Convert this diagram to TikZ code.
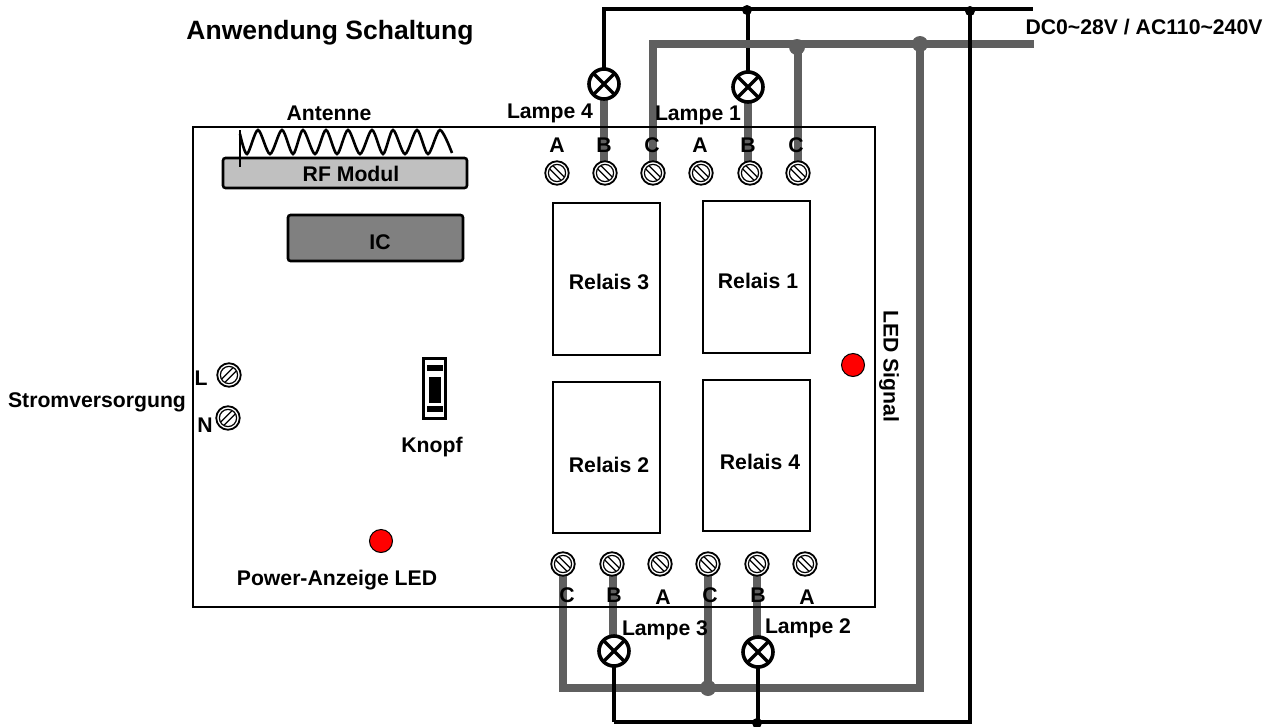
\documentclass[tikz,border=0pt]{standalone}
\usepackage{fontspec}
\setmainfont{Liberation Sans}
\definecolor{wiregray}{HTML}{5F5F5F}
\definecolor{ledred}{HTML}{FF0000}
\definecolor{rfgray}{HTML}{C0C0C0}
\definecolor{icgray}{HTML}{808080}
\tikzset{
  x=1pt,y=-1pt,
  lbl/.style={font=\bfseries\fontsize{21.2}{24}\selectfont,inner sep=0pt,text=black},
  graywire/.style={draw=wiregray,line width=8pt},
  blackwire/.style={draw=black,line width=4pt},
  graydot/.style={circle,fill=wiregray,minimum size=16pt,inner sep=0pt},
  blackdot/.style={circle,fill=black,minimum size=10pt,inner sep=0pt},
  relay/.style={draw=black,line width=2pt,fill=white,inner sep=0pt},
  chip/.style={draw=black,line width=2.6pt,rounded corners=2.5pt,inner sep=0pt},
  led/.style={circle,draw=black,line width=1pt,fill=ledred,minimum size=23pt,inner sep=0pt},
  lamp/.style={circle,draw=black,line width=3.6pt,fill=white,minimum size=30pt,inner sep=0pt,
    path picture={\draw[line width=3.4pt] (path picture bounding box.north west)--(path picture bounding box.south east)
      (path picture bounding box.north east)--(path picture bounding box.south west);}},
  screw/.style={circle,draw=black,line width=1.8pt,fill=white,minimum size=23.5pt,inner sep=0pt,
    path picture={\draw[line width=1.2pt] (path picture bounding box.center) circle[radius=8.6pt];
      \draw[line width=1.3pt]
        ([shift={(#1*-3.9,-7.1)}]path picture bounding box.center)--([shift={(#1*7.1,3.9)}]path picture bounding box.center)
        ([shift={(#1*-7.1,-3.9)}]path picture bounding box.center)--([shift={(#1*3.9,7.1)}]path picture bounding box.center);}},
}
\begin{document}
\begin{tikzpicture}
\useasboundingbox (0,0) rectangle (1272,726);
% relays
\node[relay,minimum width=107pt,minimum height=152pt] (r3) at (606.5,279) {};
\node[relay,minimum width=107pt,minimum height=152pt] (r1) at (756.5,277) {};
\node[relay,minimum width=107pt,minimum height=151pt] (r2) at (606.5,457.5) {};
\node[relay,minimum width=107pt,minimum height=151pt] (r4) at (756.5,455.5) {};
% chips
\node[chip,fill=rfgray,minimum width=244pt,minimum height=30pt] (rf) at (345,173) {};
\node[chip,fill=icgray,minimum width=175pt,minimum height=46pt] (ic) at (375.5,238) {};
% antenna
\coordinate (antTop) at (240,130);
\coordinate (antFoot) at (240,167);
\draw[line width=2.8pt] (antTop) -- (antFoot);
\draw[line width=2.6pt] plot[smooth,tension=0.5] coordinates {(240,134)
  (247,154) (258,130) (270,154) (282,130) (293,154) (303,130)
  (315,154) (326,130) (337,154) (348,130) (360,154) (372,130)
  (383,154) (393,130) (405,154) (417,130) (428,154) (440,130)
  (452,153)};
% bus coordinates
\coordinate (bt) at (1033,9);
\coordinate (gt) at (1034,44);
\coordinate (gtl) at (649,44);
\coordinate (gbr) at (924,688);
\coordinate (gbl) at (559,688);
\coordinate (bbr) at (972,721.5);
\path
  (557,173) coordinate (ta1c) (605,173) coordinate (tb1c) (653,173) coordinate (tc1c)
  (701,173) coordinate (ta2c) (750,173) coordinate (tb2c) (798,173) coordinate (tc2c)
  (563,564) coordinate (bc1c) (612,564) coordinate (bb1c) (660,564) coordinate (ba1c)
  (708,564) coordinate (bc2c) (757,564) coordinate (bb2c) (805,564) coordinate (ba2c)
  (604,84) coordinate (l4c) (748,87) coordinate (l1c) (614,651) coordinate (l3c) (758,652) coordinate (l2c);
\coordinate (bbl) at (l3c|-bbr);
% black wire under the gray bus
\draw[blackwire] (l1c) -- (l1c|-bt);
% gray wires
\draw[graywire] (gtl) -- (gt);
\draw[graywire] (653,40) -- (tc1c);
\draw[graywire] (tc2c|-gt) -- (tc2c);
\draw[graywire] (l4c) -- (l4c|-tb1c);
\draw[graywire] (l1c) -- (l1c|-tb2c);
\draw[graywire] (920,40) -- (920,692);
\draw[graywire] (gbl) -- (gbr);
\draw[graywire] (bc1c) -- (563,692);
\draw[graywire] (bc2c) -- (708,688);
\draw[graywire] (613,651) -- (613,564);
\draw[graywire] (bb2c) -- (bb2c|-l2c);
\node[graydot] (d1) at (797,47) {};
\node[graydot] (d2) at (920,44) {};
\node[graydot] (d3) at (708,688) {};
% board
\node[draw=black,line width=2pt,minimum width=682pt,minimum height=480pt,inner sep=0pt] (board) at (534,367) {};
% black wires
\draw[blackwire] (l4c) -- (l4c|-bt) -- (bt);
\draw[blackwire] (970,9) -- (970,723);
\draw[blackwire] (bbl) -- (bbr);
\draw[blackwire] (l3c) -- (bbl);
\draw[blackwire] (l2c) -- (l2c|-bbl);
\node[blackdot] (d4) at (747,10) {};
\node[blackdot] (d5) at (970,11) {};
\node[blackdot] (d6) at (757,723) {};
% terminals
\foreach \n in {ta1,tb1,tc1,ta2,tb2,tc2,bc1,bb1,ba1,bc2,bb2,ba2}
  \node[screw=1] (\n) at (\n c) {};
\node[screw=-1] (tl) at (229,375) {};
\node[screw=-1] (tn) at (228,418) {};
% lamps
\node[lamp] (l4) at (l4c) {};
\node[lamp] (l1) at (l1c) {};
\node[lamp] (l3) at (l3c) {};
\node[lamp] (l2) at (l2c) {};
% LEDs
\node[led] (ledsig) at (853,365) {};
\node[led] (ledpow) at (381,541) {};
% switch
\node[draw=black,line width=3pt,fill=white,minimum width=22pt,minimum height=60pt,inner sep=0pt] (sw) at (434.5,388.5) {};
\node[fill=black,minimum width=16pt,minimum height=6pt,inner sep=0pt] (sw1) at (434.5,368) {};
\node[fill=black,minimum width=12pt,minimum height=26pt,inner sep=0pt] (sw2) at (434.5,390) {};
\node[fill=black,minimum width=16pt,minimum height=6pt,inner sep=0pt] (sw3) at (434.5,409) {};
% texts
\node[lbl,font=\bfseries\fontsize{26.5}{28}\selectfont] (title) at (330,33) {Anwendung Schaltung};
\node[lbl] (dc) at (1144,27) {DC0\textasciitilde28V / AC110\textasciitilde240V};
\node[lbl] (antlab) at (329,113) {Antenne};
\node[lbl] (rflab) at (351,174) {RF Modul};
\node[lbl] (iclab) at (380,242) {IC};
\node[lbl] (la4) at (550,113) {Lampe 4};
\node[lbl] (la1) at (698,115) {Lampe 1};
\node[lbl] (la3) at (665,630) {Lampe 3};
\node[lbl] (la2) at (808,628) {Lampe 2};
\node[lbl] at (557,145) {A};
\node[lbl] at (604,145) {B};
\node[lbl] at (652,145) {C};
\node[lbl] at (700,145) {A};
\node[lbl] at (748,145) {B};
\node[lbl] at (796,145) {C};
\node[lbl] at (567,595) {C};
\node[lbl] at (614,595) {B};
\node[lbl] at (663,597) {A};
\node[lbl] at (710,595) {C};
\node[lbl] at (758,595) {B};
\node[lbl] at (807,597) {A};
\node[lbl] (re3) at (609,282) {Relais 3};
\node[lbl] (re1) at (758,281) {Relais 1};
\node[lbl] (re2) at (609,465) {Relais 2};
\node[lbl] (re4) at (760,462) {Relais 4};
\node[lbl,rotate=-90] (sig) at (889,366) {LED Signal};
\node[lbl] (pw) at (337,580) {Power-Anzeige LED};
\node[lbl] (kn) at (432,447) {Knopf};
\node[lbl] (ll) at (201,378) {L};
\node[lbl] (ln) at (205,425) {N};
\node[lbl] (sv) at (97,402) {Stromversorgung};
\end{tikzpicture}
\end{document}
